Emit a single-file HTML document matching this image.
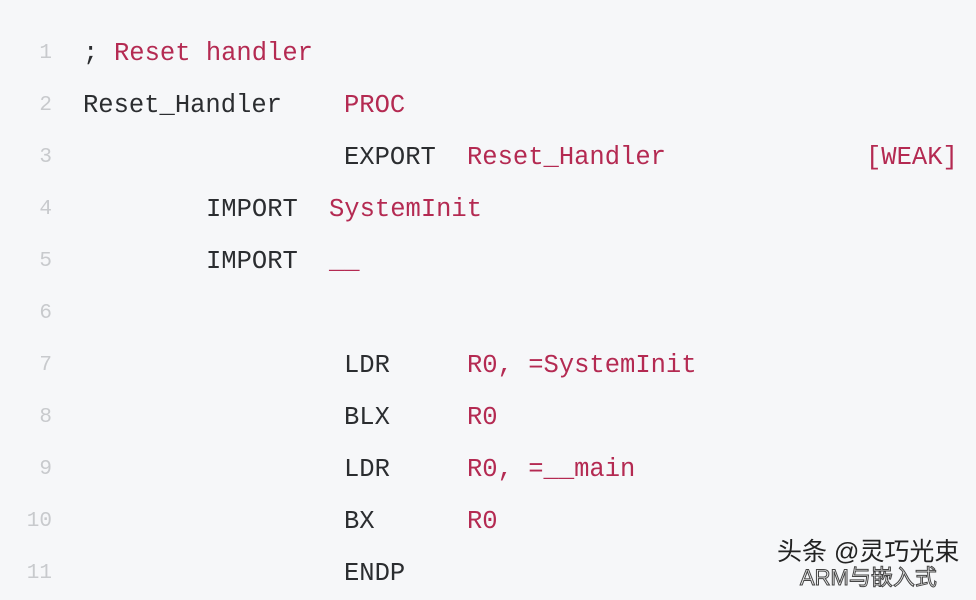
<!DOCTYPE html>
<html><head><meta charset="utf-8"><style>
html,body{margin:0;padding:0}
body{width:976px;height:589px;background:#f6f7f9;position:relative;overflow:hidden;font-family:"Liberation Mono",monospace;font-size:25.5px}
.l{position:absolute;left:0;width:976px;height:52px;line-height:52px}
.l span{position:absolute;white-space:pre}
.n{left:0;width:52px;text-align:right;color:#c8cacd;font-size:21px}
.k{color:#2b2d30}
.r{color:#b42a52}
.wm{position:absolute;left:777px;top:538px;font-family:"Liberation Sans","Noto Sans CJK SC",sans-serif;font-size:25px;color:#222;line-height:28px}
.wm2{position:absolute;left:800px;top:566px;font-family:"Liberation Sans","Noto Sans CJK SC",sans-serif;font-size:22px;color:#eee;-webkit-text-stroke:1px #444;line-height:24px}
</style></head><body>
<div class="l" style="top:28px"><span class="n">1</span><span class="k" style="left:83px">;</span><span class="r" style="left:114px">Reset handler</span></div>
<div class="l" style="top:80px"><span class="n">2</span><span class="k" style="left:83px">Reset_Handler</span><span class="r" style="left:344px">PROC</span></div>
<div class="l" style="top:132px"><span class="n">3</span><span class="k" style="left:344px">EXPORT</span><span class="r" style="left:467px">Reset_Handler</span><span class="r" style="left:866px">[WEAK]</span></div>
<div class="l" style="top:184px"><span class="n">4</span><span class="k" style="left:206px">IMPORT</span><span class="r" style="left:329px">SystemInit</span></div>
<div class="l" style="top:236px"><span class="n">5</span><span class="k" style="left:206px">IMPORT</span><span class="r" style="left:329px">__</span></div>
<div class="l" style="top:288px"><span class="n">6</span></div>
<div class="l" style="top:340px"><span class="n">7</span><span class="k" style="left:344px">LDR</span><span class="r" style="left:467px">R0, =SystemInit</span></div>
<div class="l" style="top:392px"><span class="n">8</span><span class="k" style="left:344px">BLX</span><span class="r" style="left:467px">R0</span></div>
<div class="l" style="top:444px"><span class="n">9</span><span class="k" style="left:344px">LDR</span><span class="r" style="left:467px">R0, =__main</span></div>
<div class="l" style="top:496px"><span class="n">10</span><span class="k" style="left:344px">BX</span><span class="r" style="left:467px">R0</span></div>
<div class="l" style="top:548px"><span class="n">11</span><span class="k" style="left:344px">ENDP</span></div>
<div class="wm">头条 @灵巧光束</div>
<div class="wm2">ARM与嵌入式</div>
</body></html>
